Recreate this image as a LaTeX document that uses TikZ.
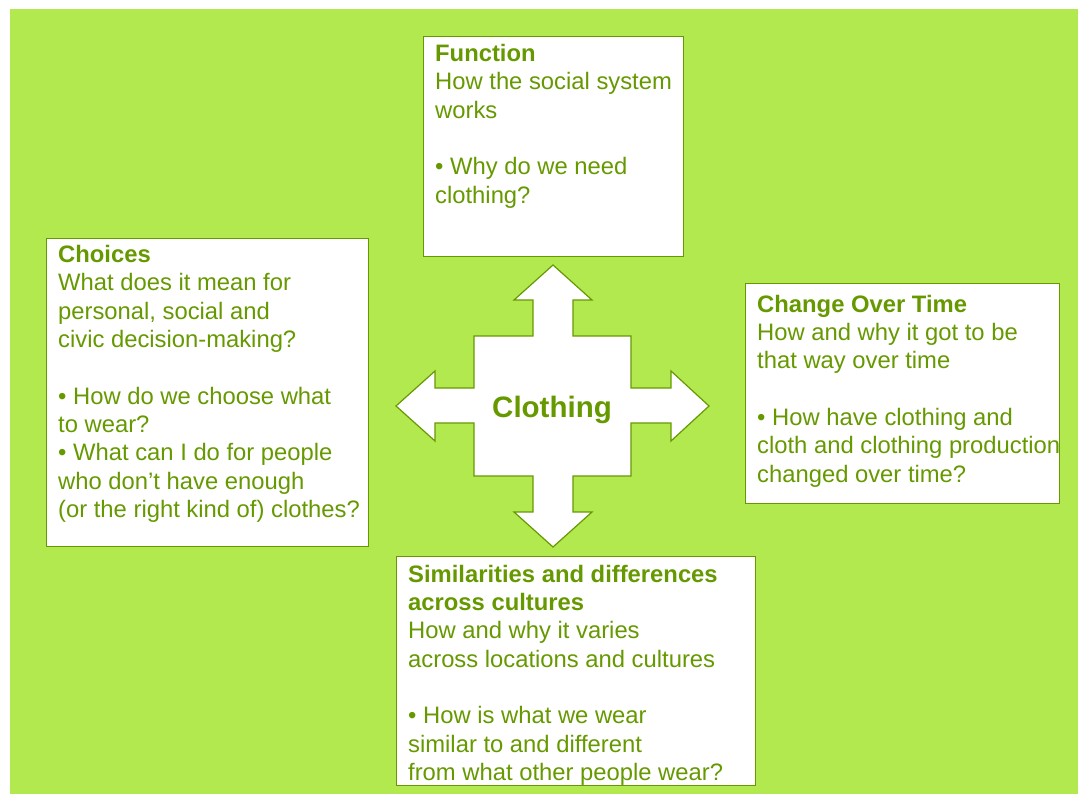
\documentclass[tikz,border=0pt]{standalone}
\usepackage{fontspec}
\setmainfont{Liberation Sans}
\usepackage{xcolor}
\usetikzlibrary{calc}
\definecolor{clothbg}{HTML}{B2E94E}
\definecolor{clothgreen}{HTML}{669900}
\tikzset{
  %topic box style
  topicbox/.style={
    draw=clothgreen
    , fill=white
    , line width=1.2pt
    , anchor=north west
    , inner sep=0pt
    %, rounded corners
  },
  %text inside a topic box (first line starts with a strut)
  topictext/.style={
    anchor=north west
    , align=left
    , inner sep=0pt
    , text=clothgreen
    , font=\fontsize{23.8}{28.33}\selectfont
  },
  %the four-way arrow in the middle
  crossarrow/.style={
    draw=clothgreen
    , fill=white
    , line width=1.2pt
    , line join=miter
  },
}

\begin{document}
\begin{tikzpicture}[x=1pt, y=-1pt]
  \useasboundingbox (0,0) rectangle (1078,794);
  \fill[clothbg] (10,9) rectangle (1078,794);

  % four-way arrow
  \draw[crossarrow]
    (553,265) -- (592,300) -- (573,300) -- (573,336) -- (631,336)
    -- (631,388) -- (671,388) -- (671,371) -- (709,406) -- (671,441)
    -- (671,423) -- (631,423) -- (631,476) -- (573,476) -- (573,512)
    -- (592,512) -- (553,547) -- (514,512) -- (533,512) -- (533,476)
    -- (474,476) -- (474,423) -- (435,423) -- (435,441) -- (396,406)
    -- (435,371) -- (435,388) -- (474,388) -- (474,336) -- (533,336)
    -- (533,300) -- (514,300) -- cycle;
  \node[anchor=base, inner sep=0pt, text=clothgreen
        , font=\bfseries\fontsize{29.5}{34}\selectfont] (hub) at (552,417) {Clothing};

  % boxes
  \node[topicbox, minimum width=260pt, minimum height=220pt] (function) at (423,36) {};
  \node[topicbox, minimum width=322pt, minimum height=308pt] (choices) at (46,238) {};
  \node[topicbox, minimum width=314pt, minimum height=220pt] (change) at (745,283) {};
  \node[topicbox, minimum width=359pt, minimum height=229pt] (similar) at (396,556) {};

  % box texts
  \node[topictext] (functiontext) at ($(function.north west)+(12,5.5)$)
    {\strut{\bfseries Function}\\
     How the social system\\
     works\\[28.33pt]
     • Why do we need\\
     clothing?};
  \node[topictext] (choicestext) at ($(choices.north west)+(12,4.5)$)
    {\strut{\bfseries Choices}\\
     What does it mean for\\
     personal, social and\\
     civic decision-making?\\[28.33pt]
     • How do we choose what\\
     to wear?\\
     • What can I do for people\\
     who don’t have enough\\
     (or the right kind of) clothes?};
  \node[topictext] (changetext) at ($(change.north west)+(12,9.3)$)
    {\strut{\bfseries Change Over Time}\\
     How and why it got to be\\
     that way over time\\[28.33pt]
     • How have clothing and\\
     cloth and clothing production\\
     changed over time?};
  \node[topictext] (similartext) at ($(similar.north west)+(12,6)$)
    {\strut{\bfseries Similarities and differences}\\
     {\bfseries across cultures}\\
     How and why it varies\\
     across locations and cultures\\[28.33pt]
     • How is what we wear\\
     similar to and different\\
     from what other people wear?};
\end{tikzpicture}
\end{document}
